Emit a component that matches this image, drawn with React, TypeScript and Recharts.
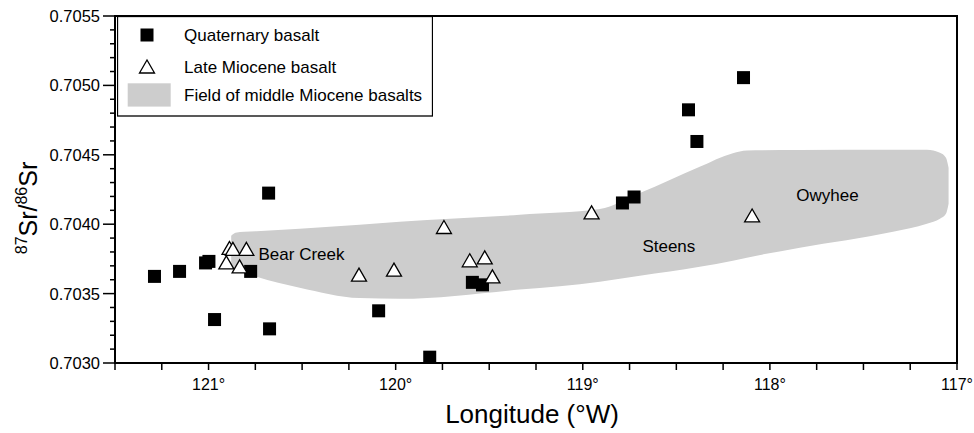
import {
  ComposedChart,
  XAxis,
  YAxis,
  Scatter,
  Area,
  ReferenceArea,
  ReferenceDot,
  Legend,
} from 'recharts'

const FONT = '"Liberation Sans", Arial, Helvetica, sans-serif'

// Quaternary basalt samples (longitude °W, 87Sr/86Sr)
const quaternary = [
  { lon: 121.289, sr: 0.703624 },
  { lon: 121.155, sr: 0.70366 },
  { lon: 121.016, sr: 0.703721 },
  { lon: 120.998, sr: 0.703732 },
  { lon: 120.968, sr: 0.703313 },
  { lon: 120.775, sr: 0.70366 },
  { lon: 120.679, sr: 0.704224 },
  { lon: 120.674, sr: 0.703246 },
  { lon: 120.091, sr: 0.703376 },
  { lon: 119.818, sr: 0.703042 },
  { lon: 119.59, sr: 0.703581 },
  { lon: 119.536, sr: 0.703563 },
  { lon: 118.788, sr: 0.704153 },
  { lon: 118.726, sr: 0.704196 },
  { lon: 118.435, sr: 0.704824 },
  { lon: 118.39, sr: 0.704596 },
  { lon: 118.141, sr: 0.705056 },
]

// Late Miocene basalt samples
const lateMiocene = [
  { lon: 120.888, sr: 0.703829 },
  { lon: 120.87, sr: 0.703822 },
  { lon: 120.798, sr: 0.703822 },
  { lon: 120.905, sr: 0.703725 },
  { lon: 120.834, sr: 0.703696 },
  { lon: 120.196, sr: 0.703637 },
  { lon: 120.009, sr: 0.703673 },
  { lon: 119.742, sr: 0.70398 },
  { lon: 119.604, sr: 0.70374 },
  { lon: 119.524, sr: 0.703761 },
  { lon: 119.483, sr: 0.703624 },
  { lon: 118.953, sr: 0.704085 },
  { lon: 118.095, sr: 0.704063 },
]

// outline of the middle Miocene field: [lower, upper] at each longitude
const middleMioceneField = [
  { lon: 120.879, sr: [0.703687, 0.703917] },
  { lon: 120.856, sr: [0.703673, 0.703939] },
  { lon: 120.808, sr: [0.703651, 0.703946] },
  { lon: 120.743, sr: [0.703622, 0.70395] },
  { lon: 120.513, sr: [0.703543, 0.703968] },
  { lon: 120.193, sr: [0.703468, 0.703996] },
  { lon: 119.979, sr: [0.703462, 0.704018] },
  { lon: 119.337, sr: [0.703529, 0.704068] },
  { lon: 118.909, sr: [0.703586, 0.704109] },
  { lon: 118.695, sr: [0.703629, 0.704224] },
  { lon: 118.375, sr: [0.703694, 0.704414] },
  { lon: 118.198, sr: [0.703737, 0.704512] },
  { lon: 118.123, sr: [0.703759, 0.704531] },
  { lon: 117.84, sr: [0.703831, 0.704534] },
  { lon: 117.342, sr: [0.703946, 0.704536] },
  { lon: 117.161, sr: [0.704004, 0.704536] },
  { lon: 117.091, sr: [0.70404, 0.704514] },
  { lon: 117.059, sr: [0.704076, 0.704478] },
  { lon: 117.045, sr: [0.704148, 0.704406] },
]

const annotations = [
  { text: 'Bear Creek', lon: 120.733, sr: 0.703745, anchor: 'start' },
  { text: 'Steens', lon: 118.54, sr: 0.703802, anchor: 'middle' },
  { text: 'Owyhee', lon: 117.692, sr: 0.704164, anchor: 'middle' },
]

const xTicks = [
  121.5, 121.25, 121, 120.75, 120.5, 120.25, 120, 119.75, 119.5, 119.25, 119,
  118.75, 118.5, 118.25, 118, 117.75, 117.5, 117.25, 117,
]

const yTicks = [
  0.703, 0.7031, 0.7032, 0.7033, 0.7034, 0.7035, 0.7036, 0.7037, 0.7038, 0.7039,
  0.704, 0.7041, 0.7042, 0.7043, 0.7044, 0.7045, 0.7046, 0.7047, 0.7048, 0.7049,
  0.705, 0.7051, 0.7052, 0.7053, 0.7054, 0.7055,
]

const legendItems = [
  { label: 'Quaternary basalt', kind: 'square' },
  { label: 'Late Miocene basalt', kind: 'triangle' },
  { label: 'Field of middle Miocene basalts', kind: 'field' },
]

function SquareDot({ cx, cy }: any) {
  return <rect x={cx - 6.5} y={cy - 6.5} width={13} height={13} fill="#000" />
}

function TriangleDot({ cx, cy }: any) {
  return (
    <polygon
      points={`${cx},${cy - 6.5} ${cx - 7.5},${cy + 6.5} ${cx + 7.5},${cy + 6.5}`}
      fill="#fff"
      stroke="#000"
      strokeWidth={1.3}
    />
  )
}

function XTick({ x, y, payload }: any) {
  const v = payload.value
  return (
    <g>
      <line x1={x} y1={y} x2={x} y2={y + 7} stroke="#000" strokeWidth={1.5} />
      {Number.isInteger(v) && (
        <text x={x} y={y + 27} textAnchor="middle" fontSize={16} fontFamily={FONT} fill="#000">
          {v}°
        </text>
      )}
    </g>
  )
}

function YTick({ x, y, payload }: any) {
  const v = payload.value
  const major = Math.round(v * 10000) % 5 === 0
  return (
    <g>
      <line x1={x - (major ? 12 : 5)} y1={y} x2={x} y2={y} stroke="#000" strokeWidth={1.5} />
      {major && (
        <text x={x - 15} y={y + 6} textAnchor="end" fontSize={16.5} fontFamily={FONT} fill="#000">
          {v.toFixed(4)}
        </text>
      )}
    </g>
  )
}

function YTitle() {
  return (
    <text
      x={37}
      y={208}
      transform="rotate(-90, 37, 208)"
      textAnchor="middle"
      fontFamily={FONT}
      fill="#000"
    >
      <tspan fontSize={16} dy={-10}>87</tspan>
      <tspan fontSize={25} dy={10}>Sr/</tspan>
      <tspan fontSize={16} dy={-10}>86</tspan>
      <tspan fontSize={25} dy={10}>Sr</tspan>
    </text>
  )
}

function XTitle() {
  return (
    <text x={532} y={423} textAnchor="middle" fontSize={26} fontFamily={FONT} fill="#000">
      Longitude (°W)
    </text>
  )
}

function LegendBox() {
  const rows = [35, 66.5, 95]
  return (
    <svg width={316} height={101} style={{ display: 'block' }}>
      <rect x={0.5} y={0.5} width={315} height={99.5} fill="#fff" stroke="#000" strokeWidth={1.3} />
      {legendItems.map((item, i) => {
        const cy = rows[i] - 16
        let icon
        if (item.kind === 'square') icon = <rect x={23.5} y={cy - 6.5} width={13} height={13} fill="#000" />
        else if (item.kind === 'triangle') icon = <TriangleDot cx={30} cy={cy} />
        else icon = <rect x={10.7} y={cy - 11.7} width={43} height={23.3} fill="#cdcdcd" />
        return (
          <g key={item.label}>
            {icon}
            <text x={67} y={cy + 6} fontSize={17} fontFamily={FONT} fill="#000">
              {item.label}
            </text>
          </g>
        )
      })}
    </svg>
  )
}

function Annotation({ cx, cy, text, anchor }: any) {
  return (
    <text x={cx} y={cy} textAnchor={anchor} fontSize={17} fontFamily={FONT} fill="#000">
      {text}
    </text>
  )
}

export default function App() {
  return (
    <div style={{ position: 'absolute', left: 0, top: 0, width: 974, height: 433, background: '#fff' }}>
      <ComposedChart width={974} height={433} margin={{ top: 16, right: 17, bottom: 0, left: 0 }}>
        <XAxis
          type="number"
          dataKey="lon"
          domain={[117, 121.5]}
          reversed
          allowDataOverflow
          ticks={xTicks}
          interval={0}
          tick={<XTick />}
          tickLine={false}
          tickSize={0}
          tickMargin={0}
          height={70}
          axisLine={{ stroke: '#000', strokeWidth: 2 }}
          label={<XTitle />}
        />
        <YAxis
          type="number"
          dataKey="sr"
          domain={[0.703, 0.7055]}
          allowDataOverflow
          ticks={yTicks}
          interval={0}
          tick={<YTick />}
          tickLine={false}
          tickSize={0}
          tickMargin={0}
          width={115}
          axisLine={{ stroke: '#000', strokeWidth: 2 }}
          label={<YTitle />}
        />
        <Area
          data={middleMioceneField}
          dataKey="sr"
          type="monotone"
          stroke="none"
          fill="#cdcdcd"
          fillOpacity={1}
          isAnimationActive={false}
          legendType="none"
        />
        <ReferenceArea
          x1={121.5}
          x2={117}
          y1={0.703}
          y2={0.7055}
          fill="none"
          stroke="#000"
          strokeWidth={2}
          ifOverflow="visible"
        />
        {annotations.map((a) => (
          <ReferenceDot
            key={a.text}
            x={a.lon}
            y={a.sr}
            r={0}
            ifOverflow="visible"
            shape={(p: any) => <Annotation cx={p.cx} cy={p.cy} text={a.text} anchor={a.anchor} />}
          />
        ))}
        <Scatter data={quaternary} dataKey="sr" shape={<SquareDot />} isAnimationActive={false} />
        <Scatter data={lateMiocene} dataKey="sr" shape={<TriangleDot />} isAnimationActive={false} />
        <Legend
          layout="vertical"
          align="center"
          verticalAlign="middle"
          content={() => <LegendBox />}
          wrapperStyle={{ left: 116.5, top: 15.5, width: 316, height: 101, margin: 0, padding: 0 }}
        />
      </ComposedChart>
    </div>
  )
}
